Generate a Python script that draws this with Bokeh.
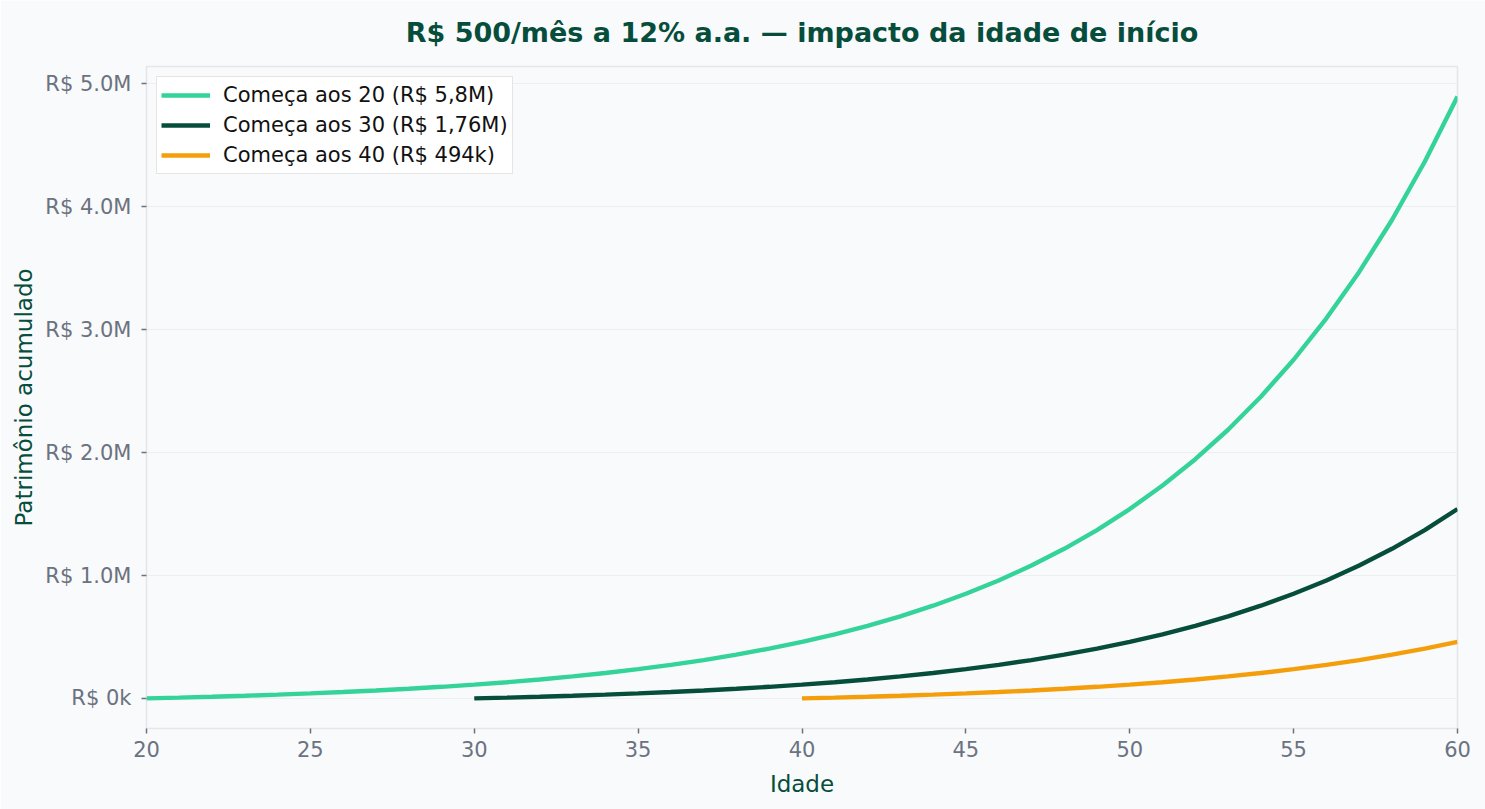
from bokeh.plotting import figure
from bokeh.models import FixedTicker, Range1d, Legend, LegendItem
from bokeh.embed import file_html
from bokeh.resources import INLINE

# Idade (anos)
idade = [20, 21, 22, 23, 24, 25, 26, 27, 28, 29, 30, 31, 32, 33, 34, 35, 36, 37, 38, 39, 40,
         41, 42, 43, 44, 45, 46, 47, 48, 49, 50, 51, 52, 53, 54, 55, 56, 57, 58, 59, 60]

# Patrimônio acumulado (R$) por anos de aporte: R$ 500/mês a 12% a.a.
patrimonio = [0, 6_400, 13_500, 21_500, 30_500, 40_600, 51_800, 64_400, 78_500, 94_300,
              112_000, 131_800, 154_000, 178_900, 206_800, 238_000, 272_900, 312_000,
              355_900, 404_900, 459_900, 521_500, 590_500, 667_700, 754_200, 851_100,
              959_600, 1_081_100, 1_217_300, 1_369_700, 1_540_500, 1_731_700, 1_945_900,
              2_185_800, 2_454_400, 2_755_400, 3_092_400, 3_469_800, 3_892_600,
              4_366_100, 4_896_400]

inicio_20 = patrimonio            # idades 20..60
inicio_30 = patrimonio[:31]       # idades 30..60
inicio_40 = patrimonio[:21]       # idades 40..60

titulo = "R$ 500/mês a 12% a.a. — impacto da idade de início"
rotulos = ["Começa aos 20 (R$ 5,8M)", "Começa aos 30 (R$ 1,76M)", "Começa aos 40 (R$ 494k)"]
cores = ["#34d399", "#064e3b", "#f59e0b"]

y_ticks = [0, 1_000_000, 2_000_000, 3_000_000, 4_000_000, 5_000_000]
y_tick_labels = ["R$ 0k", "R$ 1.0M", "R$ 2.0M", "R$ 3.0M", "R$ 4.0M", "R$ 5.0M"]
x_ticks = [20, 25, 30, 35, 40, 45, 50, 55, 60]

BG = "#f9fafb"
FONT = "DejaVu Sans"
DARK = "#064e3b"
GRAY = "#6b7280"

p = figure(width=1485, height=809, output_backend="svg", toolbar_location=None,
           x_range=Range1d(20, 60), y_range=Range1d(-244_800, 5_141_200),
           min_border_left=146, min_border_right=28, min_border_top=65, min_border_bottom=81,
           background_fill_color=BG, border_fill_color=BG)

p.title.text = titulo
p.title.align = "center"
p.title.vertical_align = "top"
p.title.text_font = FONT
p.title.text_font_style = "bold"
p.title.text_font_size = "27px"
p.title.text_color = DARK
p.title.standoff = 33

series = [(idade, inicio_20), (idade[10:], inicio_30), (idade[20:], inicio_40)]
items = []
for (xs, ys), cor, rot in zip(series, cores, rotulos):
    r = p.line(xs, ys, line_color=cor, line_width=4.4)
    items.append(LegendItem(label=rot, renderers=[r]))

legend = Legend(items=items, location="top_left", margin=10,
                label_text_font=FONT, label_text_font_size="21px", label_text_color="#111111",
                glyph_width=49, glyph_height=28, label_standoff=13, spacing=2, padding=4,
                background_fill_color="white", background_fill_alpha=1.0,
                border_line_color="#cccccc", border_line_width=1.2)
p.add_layout(legend)

p.outline_line_color = "#e5e7eb"
p.outline_line_width = 1.6
p.xgrid.visible = False
p.ygrid.grid_line_color = "#eceef1"
p.ygrid.grid_line_width = 1.2
p.ygrid.ticker = FixedTicker(ticks=y_ticks)

p.yaxis.ticker = FixedTicker(ticks=y_ticks)
p.yaxis.major_label_overrides = {t: l for t, l in zip(y_ticks, y_tick_labels)}
p.xaxis.ticker = FixedTicker(ticks=x_ticks)

for ax in (p.xaxis[0], p.yaxis[0]):
    ax.axis_line_color = None
    ax.major_tick_line_color = GRAY
    ax.major_tick_line_width = 1.5
    ax.major_tick_out = 5
    ax.major_tick_in = 0
    ax.minor_tick_line_color = None
    ax.major_label_text_font = FONT
    ax.major_label_text_font_size = "21px"
    ax.major_label_text_color = GRAY
    ax.axis_label_text_font = FONT
    ax.axis_label_text_font_size = "23px"
    ax.axis_label_text_font_style = "normal"
    ax.axis_label_text_color = DARK

p.xaxis.axis_label = "Idade"
p.yaxis.axis_label = "Patrimônio acumulado"
p.xaxis.major_label_standoff = 7
p.xaxis.axis_label_standoff = 11
p.yaxis.major_label_standoff = 10
p.yaxis.axis_label_standoff = 5

open("out.html", "w").write(file_html(p, INLINE))
